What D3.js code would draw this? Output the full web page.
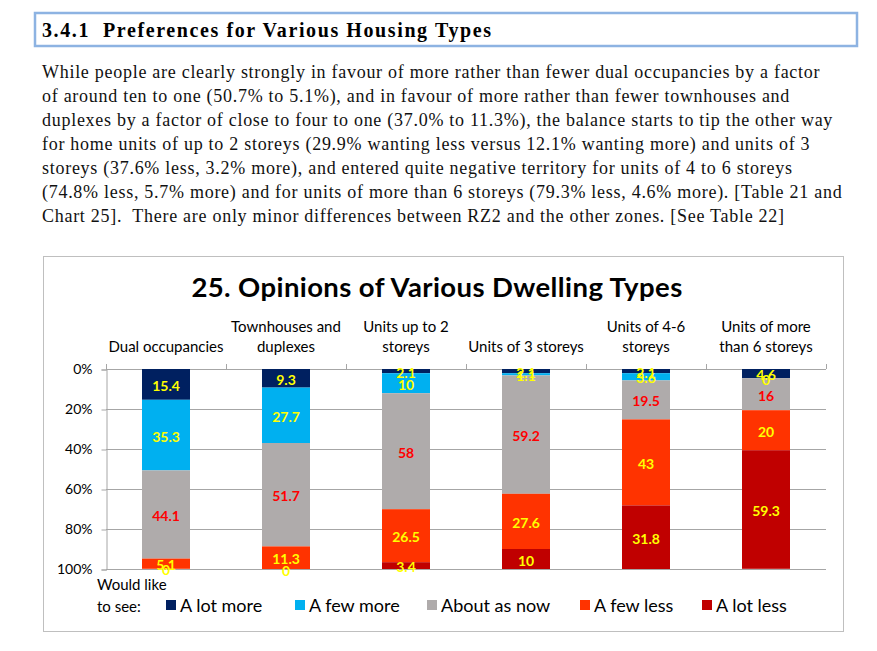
<!DOCTYPE html>
<html>
<head>
<meta charset="utf-8">
<script src="https://cdn.jsdelivr.net/npm/d3@7"></script>
<style>
  body { margin: 0; background: #fff; }
  svg { display: block; }
</style>
</head>
<body>
<svg id="page" width="877" height="651"></svg>
<script>
// Chart data
var categories = ["Dual occupancies", "Townhouses and duplexes", "Units up to 2 storeys",
                  "Units of 3 storeys", "Units of 4-6 storeys", "Units of more than 6 storeys"];
var categoryLines = [["Dual occupancies"], ["Townhouses and", "duplexes"], ["Units up to 2", "storeys"],
                     ["Units of 3 storeys"], ["Units of 4-6", "storeys"], ["Units of more", "than 6 storeys"]];
var seriesNames = ["A lot more", "A few more", "About as now", "A few less", "A lot less"];
var aLotMore   = [15.4, 9.3, 2.1, 2.1, 2.1, 4.6];
var aFewMore   = [35.3, 27.7, 10, 1.1, 3.6, 0];
var aboutAsNow = [44.1, 51.7, 58, 59.2, 19.5, 16];
var aFewLess   = [5.1, 11.3, 26.5, 27.6, 43, 20];
var aLotLess   = [0, 0, 3.4, 10, 31.8, 59.3];
var yTicks = [0, 20, 40, 60, 80, 100];

var paragraph = [
    "While people are clearly strongly in favour of more rather than fewer dual occupancies by a factor",
    "of around ten to one (50.7% to 5.1%), and in favour of more rather than fewer townhouses and",
    "duplexes by a factor of close to four to one (37.0% to 11.3%), the balance starts to tip the other way",
    "for home units of up to 2 storeys (29.9% wanting less versus 12.1% wanting more) and units of 3",
    "storeys (37.6% less, 3.2% more), and entered quite negative territory for units of 4 to 6 storeys",
    "(74.8% less, 5.7% more) and for units of more than 6 storeys (79.3% less, 4.6% more). [Table 21 and",
    "Chart 25].  There are only minor differences between RZ2 and the other zones. [See Table 22]"
];

var colors = ["#002060", "#00b0f0", "#afabab", "#ff3300", "#c00000"];
var labelColors = ["#ffff00", "#ffff00", "#ff0000", "#ffff00", "#ffff00"];

var svg = d3.select("#page");
var serif = "'Liberation Serif', 'DejaVu Serif', serif";
var sans = "Lato, 'Open Sans', sans-serif";

// Section heading
svg.append("rect")
    .attr("x", 35).attr("y", 13).attr("width", 822).attr("height", 33)
    .attr("fill", "none").attr("stroke", "#8db3e2").attr("stroke-width", 2.5);
svg.append("text")
    .attr("x", 42).attr("y", 37)
    .attr("font-family", serif).attr("font-weight", "bold").attr("font-size", 20)
    .attr("letter-spacing", 1.6)
    .text("3.4.1");
svg.append("text")
    .attr("x", 103).attr("y", 37)
    .attr("font-family", serif).attr("font-weight", "bold").attr("font-size", 20)
    .attr("letter-spacing", 1.6)
    .text("Preferences for Various Housing Types");

// Body text
svg.selectAll(".para")
    .data(paragraph)
    .enter()
    .append("text")
    .attr("class", "para")
    .attr("x", 42)
    .attr("y", function(d, i) { return 78 + i * 24; })
    .attr("font-family", serif).attr("font-size", 18)
    .attr("letter-spacing", 0.72)
    .attr("fill", "#111")
    .style("white-space", "pre")
    .text(function(d) { return d; });

// Chart frame
svg.append("rect")
    .attr("x", 43.5).attr("y", 256.5).attr("width", 800).attr("height", 375)
    .attr("fill", "#fff").attr("stroke", "#bfbfbf");

svg.append("text")
    .attr("x", 437).attr("y", 297)
    .attr("text-anchor", "middle")
    .attr("font-family", sans).attr("font-weight", "bold").attr("font-size", 27.5)
    .attr("letter-spacing", 0.4)
    .text("25. Opinions of Various Dwelling Types");

// Scales
var x = d3.scaleBand().domain(categories).range([106, 826]).paddingInner(0.6).paddingOuter(0.3);
var y = d3.scaleLinear().domain([0, 100]).range([369, 569]);

var rows = categories.map(function(c, i) {
    return {cat: c, "A lot more": aLotMore[i], "A few more": aFewMore[i], "About as now": aboutAsNow[i],
            "A few less": aFewLess[i], "A lot less": aLotLess[i]};
});
var stacked = d3.stack().keys(seriesNames)(rows);

// Gridlines
svg.append("g")
    .selectAll("line")
    .data(yTicks)
    .enter()
    .append("line")
    .attr("x1", 106).attr("x2", 826)
    .attr("y1", function(d) { return Math.round(y(d)) + 0.5; })
    .attr("y2", function(d) { return Math.round(y(d)) + 0.5; })
    .attr("stroke", "#a6a6a6");

// Y axis
var yAxis = svg.append("g")
    .attr("transform", "translate(106.5,0.5)")
    .call(d3.axisLeft(y).tickValues(yTicks).tickSize(5).tickPadding(9)
        .tickFormat(function(d) { return d + "%"; }));
yAxis.select(".domain").attr("stroke", "#a6a6a6");
yAxis.selectAll(".tick line").attr("stroke", "#a6a6a6");
yAxis.selectAll("text").attr("font-family", sans).attr("font-size", 14).attr("fill", "#000");

// Category ticks along the top
var boundaries = categories.map(function(c) { return x(c) - x.step() * 0.3; });
boundaries.push(826);
svg.append("g")
    .selectAll("line")
    .data(boundaries)
    .enter()
    .append("line")
    .attr("x1", function(d) { return Math.round(d) + 0.5; })
    .attr("x2", function(d) { return Math.round(d) + 0.5; })
    .attr("y1", 364).attr("y2", 369)
    .attr("stroke", "#a6a6a6");

// Category labels
var catLabels = svg.append("g")
    .selectAll("text")
    .data(categoryLines)
    .enter()
    .append("text")
    .attr("text-anchor", "middle")
    .attr("font-family", sans).attr("font-size", 15)
    .attr("x", function(d, i) { return x(categories[i]) + x.bandwidth() / 2; })
    .attr("y", function(d) { return d.length === 2 ? 332 : 352; });
catLabels.selectAll("tspan")
    .data(function(d) { return d; })
    .enter()
    .append("tspan")
    .attr("x", function() { return d3.select(this.parentNode).attr("x"); })
    .attr("dy", function(d, i) { return i === 0 ? 0 : 20; })
    .text(function(d) { return d; });

// Bars
var layers = svg.append("g")
    .selectAll("g")
    .data(stacked)
    .enter()
    .append("g")
    .attr("fill", function(d, i) { return colors[i]; });

layers.selectAll("rect")
    .data(function(d) { return d; })
    .enter()
    .append("rect")
    .attr("x", function(d) { return x(d.data.cat); })
    .attr("y", function(d) { return y(d[0]); })
    .attr("width", x.bandwidth())
    .attr("height", function(d) { return y(d[1]) - y(d[0]); });

// Value labels
var labelGroups = svg.append("g")
    .selectAll("g")
    .data(stacked)
    .enter()
    .append("g")
    .attr("fill", function(d, i) { return labelColors[i]; });

labelGroups.selectAll("text")
    .data(function(d) { return d.map(function(p) { p.key = d.key; return p; }); })
    .enter()
    .append("text")
    .attr("text-anchor", "middle")
    .attr("dominant-baseline", "central")
    .attr("font-family", sans).attr("font-weight", "bold").attr("font-size", 14)
    .attr("x", function(d) { return x(d.data.cat) + x.bandwidth() / 2; })
    .attr("y", function(d) { return (y(d[0]) + y(d[1])) / 2 + 1; })
    .text(function(d) { return d.data[d.key]; });

// Legend
svg.append("text")
    .attr("font-family", sans).attr("font-size", 15)
    .attr("x", 97).attr("y", 590).text("Would like");
svg.append("text")
    .attr("font-family", sans).attr("font-size", 15)
    .attr("x", 97).attr("y", 612).text("to see:");

var legendX = [166, 295, 427, 580, 702];
var legend = svg.append("g")
    .selectAll("g")
    .data(seriesNames)
    .enter()
    .append("g")
    .attr("transform", function(d, i) { return "translate(" + legendX[i] + ",605)"; });
legend.append("rect")
    .attr("x", 0).attr("y", -5).attr("width", 10).attr("height", 10)
    .attr("fill", function(d, i) { return colors[i]; });
legend.append("text")
    .attr("x", 14).attr("y", 0)
    .attr("dominant-baseline", "central")
    .attr("font-family", sans).attr("font-size", 18)
    .text(function(d) { return d; });
</script>
</body>
</html>
